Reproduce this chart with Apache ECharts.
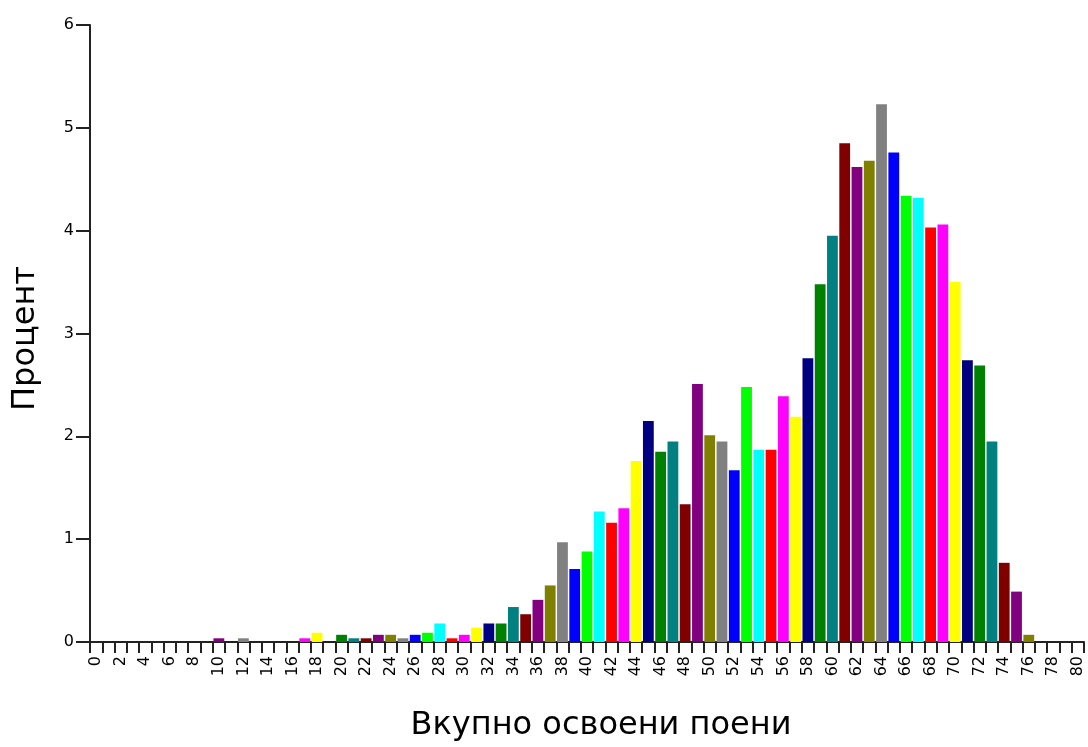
<!DOCTYPE html>
<html>
<head>
<meta charset="utf-8">
<script src="https://cdn.jsdelivr.net/npm/echarts@6/dist/echarts.min.js"></script>
<style>
html,body{margin:0;padding:0;background:#fff;}
#chart{width:1088px;height:747px;}
</style>
</head>
<body>
<div id="chart"></div>
<script>
var categories = ['0','1','2','3','4','5','6','7','8','9','10','11','12','13','14','15','16','17','18','19','20','21','22','23','24','25','26','27','28','29','30','31','32','33','34','35','36','37','38','39','40','41','42','43','44','45','46','47','48','49','50','51','52','53','54','55','56','57','58','59','60','61','62','63','64','65','66','67','68','69','70','71','72','73','74','75','76','77','78','79','80'];
var percent = [0,0,0,0,0,0,0,0,0,0,
  0.036,0,0.036,0,0,0,0,0.036,0.09,0,
  0.07,0.036,0.036,0.07,0.07,0.036,0.07,0.09,0.18,0.036,
  0.07,0.14,0.18,0.18,0.34,0.27,0.41,0.55,0.97,0.71,
  0.88,1.27,1.16,1.30,1.76,2.15,1.85,1.95,1.34,2.51,
  2.01,1.95,1.67,2.48,1.87,1.87,2.39,2.19,2.76,3.48,
  3.95,4.85,4.62,4.68,5.23,4.76,4.34,4.32,4.03,4.06,
  3.50,2.74,2.69,1.95,0.77,0.49,0.07,0,0,0,0];
var yTicks = [0,1,2,3,4,5,6];
var palette = ['#000080','#008000','#008080','#800000','#800080','#808000','#808080','#0000FF','#00FF00','#00FFFF','#FF0000','#FF00FF','#FFFF00'];
var xTitle = 'Вкупно освоени поени';
var yTitle = 'Процент';

var chart = echarts.init(document.getElementById('chart'));
chart.setOption({
  animation: false,
  backgroundColor: '#ffffff',
  grid: {left: 90, right: 4, top: 25, bottom: 104.5, containLabel: false},
  xAxis: {
    type: 'category',
    data: categories,
    boundaryGap: true,
    name: xTitle,
    nameLocation: 'middle',
    nameGap: 68,
    nameTextStyle: {fontFamily: 'DejaVu Sans', fontSize: 32, color: '#000', padding: [0,0,0,28]},
    axisLine: {show: true, lineStyle: {color: '#222', width: 2}},
    axisTick: {show: true, interval: 0, length: 11, lineStyle: {color: '#222', width: 2}},
    axisLabel: {interval: 1, rotate: 90, margin: 14, fontFamily: 'DejaVu Sans', fontSize: 16, color: '#000'},
    splitLine: {show: false}
  },
  yAxis: {
    type: 'value',
    min: yTicks[0],
    max: yTicks[yTicks.length - 1],
    interval: 1,
    name: yTitle,
    nameLocation: 'middle',
    nameGap: 48,
    nameRotate: 90,
    nameTextStyle: {fontFamily: 'DejaVu Sans', fontSize: 32, color: '#000', padding: [0,10,0,0]},
    axisLine: {show: true, lineStyle: {color: '#222', width: 2}},
    axisTick: {show: true, length: 14, lineStyle: {color: '#222', width: 2}},
    axisLabel: {margin: 16, fontFamily: 'DejaVu Sans', fontSize: 16, color: '#000'},
    splitLine: {show: false}
  },
  series: [{
    type: 'bar',
    data: percent,
    barCategoryGap: '12%',
    itemStyle: {
      color: function (p) { return palette[(p.dataIndex + 7) % palette.length]; }
    }
  }]
});
</script>
</body>
</html>
